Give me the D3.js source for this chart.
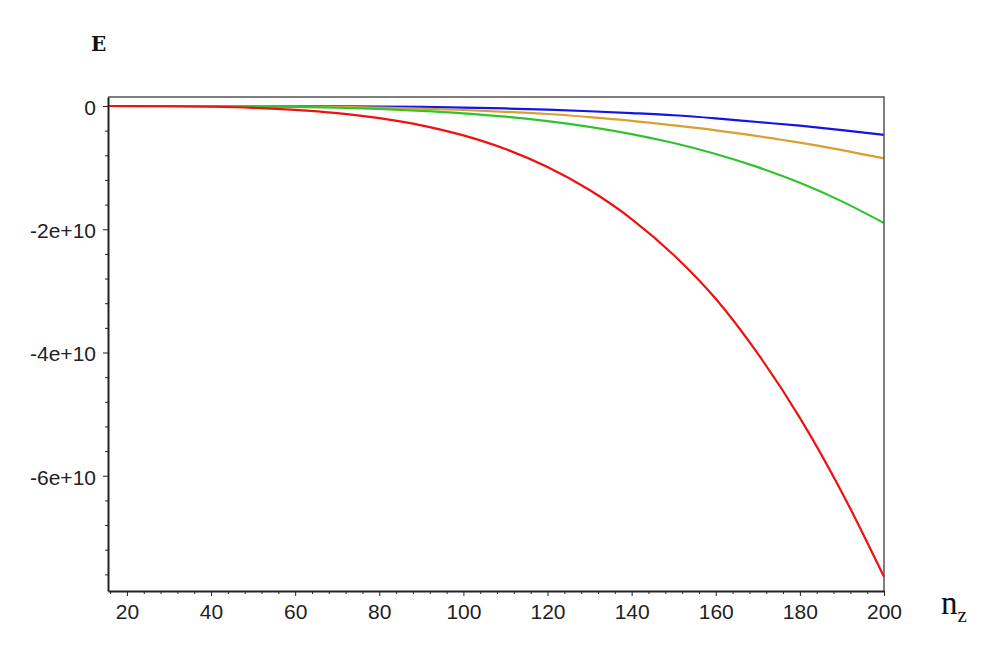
<!DOCTYPE html>
<html>
<head>
<meta charset="utf-8">
<script src="https://cdn.jsdelivr.net/npm/d3@7"></script>
<style>
  body { margin: 0; background: #fff; }
  svg { display: block; }
</style>
</head>
<body>
<svg id="chart"></svg>
<script>
// n_z sample points and energies (units of 1e10)
const nValues = [15.5, 20, 30, 40, 50, 60, 70, 80, 90, 100, 110, 120, 130, 140, 150, 160, 170, 180, 190, 200];
const redE    = [0, -0.0008, -0.0039, -0.0122, -0.0298, -0.0619, -0.1147, -0.1956, -0.3133, -0.4775, -0.699, -0.99, -1.364, -1.834, -2.417, -3.129, -4.02, -5.06, -6.27, -7.64];
const greenE  = [0, -0.0002, -0.001, -0.003, -0.0074, -0.0154, -0.0285, -0.0486, -0.0779, -0.1188, -0.1739, -0.2462, -0.3392, -0.4562, -0.6012, -0.7782, -0.9918, -1.2466, -1.5476, -1.90];
const goldE   = [0, 0, -0.0003, -0.001, -0.003, -0.007, -0.014, -0.026, -0.042, -0.065, -0.095, -0.13, -0.18, -0.24, -0.315, -0.395, -0.49, -0.595, -0.715, -0.85];
const blueE   = [0, 0, -0.0001, -0.0004, -0.001, -0.002, -0.005, -0.009, -0.015, -0.025, -0.04, -0.06, -0.085, -0.115, -0.15, -0.2, -0.26, -0.32, -0.39, -0.47];

const xMajorTicks = [20, 40, 60, 80, 100, 120, 140, 160, 180, 200];
const yMajorTicks = [0, -2e10, -4e10, -6e10];

const series = [
    { name: 'blue', values: blueE, color: '#1414e6' },
    { name: 'gold', values: goldE, color: '#d8a030' },
    { name: 'green', values: greenE, color: '#2fc42f' },
    { name: 'red', values: redE, color: '#f01010' }
];

function drawChart() {
    const width = 989;
    const height = 649;
    const margin = { top: 97, right: 105, bottom: 58, left: 108 };

    const svg = d3.select('#chart').attr('width', width).attr('height', height);
    svg.append('rect').attr('width', width).attr('height', height).attr('fill', '#fff');

    const xScale = d3.scaleLinear().domain([15.5, 200]).range([margin.left, width - margin.right]);
    const yScale = d3.scaleLinear().domain([-7.87e10, 0.146e10]).range([height - margin.bottom, margin.top]);

    const line = d3.line()
        .x(d => xScale(d.n))
        .y(d => yScale(d.e * 1e10))
        .curve(d3.curveMonotoneX);

    series.forEach(s => {
        const pts = nValues.map((n, i) => ({ n: n, e: s.values[i] }));
        svg.append('path')
            .datum(pts)
            .attr('fill', 'none')
            .attr('stroke', s.color)
            .attr('stroke-width', 2.2)
            .attr('d', line);
    });

    // frame on top and right
    const x0 = xScale.range()[0], x1 = xScale.range()[1];
    const y0 = yScale.range()[0], y1 = yScale.range()[1];
    svg.append('path')
        .attr('d', `M${x0},${y1}H${x1}V${y0}`)
        .attr('fill', 'none')
        .attr('stroke', '#555')
        .attr('stroke-width', 1.5);

    // x axis: major + minor ticks
    const xMinor = d3.range(16, 201, 4).filter(v => !xMajorTicks.includes(v));
    svg.append('g')
        .attr('transform', `translate(0, ${y0})`)
        .call(d3.axisBottom(xScale).tickValues(xMinor).tickSize(3).tickFormat(''))
        .call(g => g.select('.domain').remove())
        .selectAll('line').attr('stroke', '#222');

    const xAxis = svg.append('g')
        .attr('transform', `translate(0, ${y0})`)
        .call(d3.axisBottom(xScale).tickValues(xMajorTicks).tickSize(5).tickSizeOuter(0).tickPadding(8));
    xAxis.select('.domain').attr('stroke', '#222').attr('stroke-width', 2);
    xAxis.selectAll('line').attr('stroke', '#222');
    xAxis.selectAll('text')
        .style('font-family', 'Liberation Sans, Arial, sans-serif')
        .style('font-size', '21px')
        .attr('fill', '#222');

    // y axis: major + minor ticks
    const yMinor = d3.range(0, 20).map(i => -i * 0.4e10).filter(v => !yMajorTicks.includes(v));
    svg.append('g')
        .attr('transform', `translate(${x0}, 0)`)
        .call(d3.axisLeft(yScale).tickValues(yMinor).tickSize(3).tickFormat(''))
        .call(g => g.select('.domain').remove())
        .selectAll('line').attr('stroke', '#222');

    const yAxis = svg.append('g')
        .attr('transform', `translate(${x0}, 0)`)
        .call(d3.axisLeft(yScale).tickValues(yMajorTicks).tickSize(5).tickSizeOuter(0).tickPadding(7)
            .tickFormat(v => v === 0 ? '0' : `${v / 1e10}e+10`));
    yAxis.select('.domain').attr('stroke', '#222').attr('stroke-width', 2);
    yAxis.selectAll('line').attr('stroke', '#222');
    yAxis.selectAll('text')
        .style('font-family', 'Liberation Sans, Arial, sans-serif')
        .style('font-size', '21px')
        .attr('dy', '0.4em')
        .attr('fill', '#222');

    // axis titles
    svg.append('text')
        .attr('x', 91)
        .attr('y', 51)
        .style('font-family', 'DejaVu Serif, serif')
        .style('font-weight', 'bold')
        .style('font-size', '20px')
        .attr('fill', '#111')
        .text('E');

    const nz = svg.append('text')
        .attr('x', 941)
        .attr('y', 614)
        .style('font-family', 'Liberation Serif, Times New Roman, serif')
        .style('font-size', '33px')
        .attr('fill', '#111');
    nz.append('tspan').text('n');
    nz.append('tspan')
        .attr('dy', 8)
        .style('font-size', '21px')
        .text('z');
}

drawChart();
</script>
</body>
</html>
